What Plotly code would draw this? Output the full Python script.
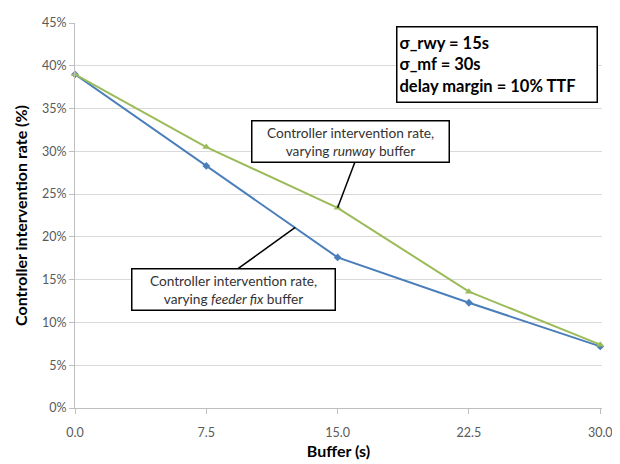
import plotly.graph_objects as go

buffer_s = [0.0, 7.5, 15.0, 22.5, 30.0]
feeder_fix_rate = [0.390, 0.283, 0.176, 0.123, 0.072]
runway_rate = [0.390, 0.305, 0.234, 0.136, 0.074]
x_ticks = [0.0, 7.5, 15.0, 22.5, 30.0]
x_tick_labels = ["0.0", "7.5", "15.0", "22.5", "30.0"]

FONT = "Lato"
OFF = 8  # browser default body margin
W, H = 620 - OFF, 464 - OFF
# plot area in page pixels: x 75..610, y 15..409
ml, mr, mt, mb = 75 - OFF, 620 - 610, 15 - OFF, 464 - 409
pw, ph = W - ml - mr, H - mt - mb


def px(xp):
    return (xp - OFF - ml) / pw


def py(yp):
    return (H - (yp - OFF) - mb) / ph


fig = go.Figure()
fig.add_trace(go.Scatter(x=buffer_s, y=feeder_fix_rate, mode="lines+markers",
                         line=dict(color="#4A7EBB", width=2),
                         marker=dict(symbol="diamond", size=6, color="#4A7EBB"),
                         name="feeder fix", cliponaxis=False))
fig.add_trace(go.Scatter(x=buffer_s, y=runway_rate, mode="lines+markers",
                         line=dict(color="#9BBB59", width=2),
                         marker=dict(symbol="triangle-up", size=7, color="#9BBB59"),
                         name="runway", cliponaxis=False))

# leader lines
fig.add_shape(type="line", xref="x", yref="y", x0=15.0, y0=0.234, x1=16.0, y1=0.288,
              line=dict(color="black", width=1.5))
fig.add_shape(type="line", xref="x", yref="y", x0=12.58, y0=0.211, x1=9.25, y1=0.162,
              line=dict(color="black", width=1.5))

box_font = dict(family=FONT, size=13.7, color="#333333")
fig.add_annotation(x=px(355), y=py(136), xref="paper", yref="paper", showarrow=False,
                   xanchor="center", yanchor="middle",
                   text="Controller intervention rate,<br>varying <i>runway</i> buffer",
                   font=box_font, bgcolor="white", bordercolor="black", borderwidth=1.5,
                   width=194, height=38, borderpad=1)
fig.add_annotation(x=px(236), y=py(288), xref="paper", yref="paper", showarrow=False,
                   xanchor="center", yanchor="middle",
                   text="Controller intervention rate,<br>varying <i>feeder fix</i> buffer",
                   font=box_font, bgcolor="white", bordercolor="black", borderwidth=1.5,
                   width=200, height=38, borderpad=1)
fig.add_annotation(x=px(503), y=py(57), xref="paper", yref="paper", showarrow=False,
                   xanchor="center", yanchor="middle",
                   text="<b>σ_rwy = 15s<br>σ_mf = 30s<br>delay margin = 10% TTF</b>",
                   align="left", font=dict(family=FONT, size=16.5, color="black"),
                   bgcolor="white", bordercolor="black", borderwidth=1.5,
                   width=195, height=70, borderpad=2)

fig.update_layout(
    width=W, height=H, margin=dict(l=ml, r=mr, t=mt, b=mb),
    paper_bgcolor="white", plot_bgcolor="white", showlegend=False,
    font=dict(family=FONT, size=12, color="#595959"),
)
fig.update_xaxes(range=[0, 30.1], tickvals=x_ticks, ticktext=x_tick_labels,
                 showgrid=False, showline=True, linecolor="#BFBFBF", linewidth=1,
                 ticks="outside", ticklen=5, tickcolor="#BFBFBF", zeroline=False,
                 ticklabelstandoff=8, ticklabeloverflow="allow",
                 tickfont=dict(family=FONT, size=12.5, color="#595959"),
                 title=dict(text="<b>Buffer (s)</b>", standoff=6,
                            font=dict(family=FONT, size=16, color="black")))
fig.update_yaxes(range=[0, 0.45], dtick=0.05, tickformat=".0%",
                 showgrid=True, gridcolor="#D9D9D9", gridwidth=1,
                 showline=True, linecolor="#BFBFBF", linewidth=1,
                 ticks="outside", ticklen=5, tickcolor="#BFBFBF", zeroline=False,
                 ticklabeloverflow="allow",
                 tickfont=dict(family=FONT, size=12.5, color="#595959"),
                 title=dict(text="<b>Controller intervention rate (%)</b>", standoff=10,
                            font=dict(family=FONT, size=16, color="black")))

fig.write_html("out.html")
